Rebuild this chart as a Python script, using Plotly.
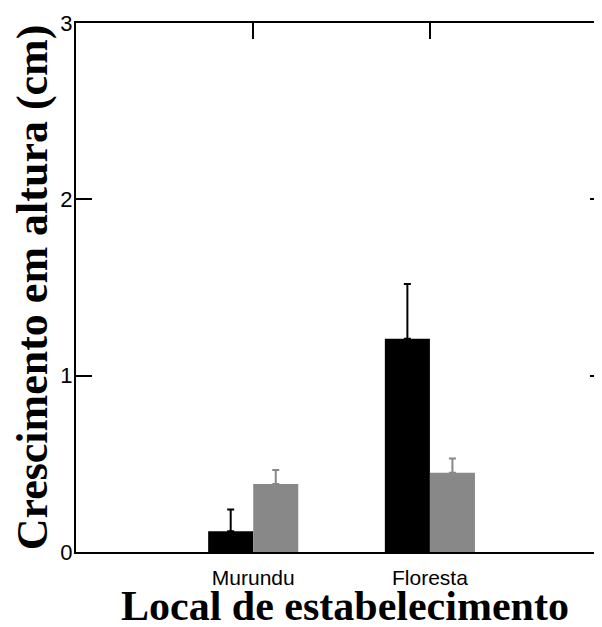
import plotly.graph_objects as go

categories = ["Murundu", "Floresta"]
black_values = [0.118, 1.21]
black_errors = [0.123, 0.31]
gray_values = [0.385, 0.45]
gray_errors = [0.08, 0.08]
y_ticks = [0, 1, 2, 3]

fig = go.Figure()
fig.add_trace(go.Bar(
    x=categories, y=black_values, marker=dict(color="#000000", line=dict(width=0)),
    error_y=dict(type="data", array=black_errors, symmetric=False, arrayminus=[0, 0],
                 color="#000000", thickness=2, width=3.5),
    showlegend=False))
fig.add_trace(go.Bar(
    x=categories, y=gray_values, marker=dict(color="#888888", line=dict(width=0)),
    error_y=dict(type="data", array=gray_errors, symmetric=False, arrayminus=[0, 0],
                 color="#888888", thickness=2, width=3.5),
    showlegend=False))

# invisible trace to activate mirrored axes
fig.add_trace(go.Scatter(x=categories, y=[None, None], xaxis="x2", yaxis="y2",
                         showlegend=False, hoverinfo="skip"))

tick_font = dict(family="Arial, Liberation Sans, sans-serif", size=22, color="#000000")
xr = [-1.003, 1.974]

fig.update_layout(
    width=594, height=619,
    margin=dict(l=68, r=0, t=15, b=75),
    paper_bgcolor="white", plot_bgcolor="white",
    barmode="group", bargap=0.49, bargroupgap=0,
    xaxis=dict(type="category", range=xr, showline=True, linecolor="#000000", linewidth=2,
               ticks="", showgrid=False, zeroline=False, ticklabelstandoff=6,
               tickfont=dict(family="Arial, Liberation Sans, sans-serif", size=21, color="#000000")),
    xaxis2=dict(type="category", range=xr, overlaying="x", side="top", showline=True,
                linecolor="#000000", linewidth=2, ticks="inside", ticklen=16, tickwidth=2,
                tickcolor="#000000", showticklabels=False, showgrid=False, zeroline=False),
    yaxis=dict(range=[0, 3], tickvals=y_ticks, ticktext=[str(v) for v in y_ticks],
               showline=True, linecolor="#000000", linewidth=2, ticks="inside", ticklen=16,
               tickwidth=2, tickcolor="#000000", showgrid=False, zeroline=False,
               tickfont=tick_font, ticklabelstandoff=-3),
    yaxis2=dict(range=[0, 3], tickvals=y_ticks, overlaying="y", side="right", showline=False,
                ticks="inside", ticklen=12, tickwidth=2, tickcolor="#000000",
                showticklabels=False, showgrid=False, zeroline=False),
    annotations=[
        dict(text="<b>Local de estabelecimento</b>", xref="paper", yref="paper",
             x=0.511, y=-0.103, xanchor="center", yanchor="middle", showarrow=False,
             font=dict(family="Liberation Serif, Times New Roman, serif", size=42, color="#000000")),
        dict(text="<b>Crescimento em altura (cm)</b>", xref="paper", yref="paper",
             x=-0.082, y=0.5, xanchor="center", yanchor="middle", showarrow=False, textangle=-90,
             font=dict(family="Liberation Serif, Times New Roman, serif", size=44, color="#000000")),
    ],
)

fig.write_html("out.html")
